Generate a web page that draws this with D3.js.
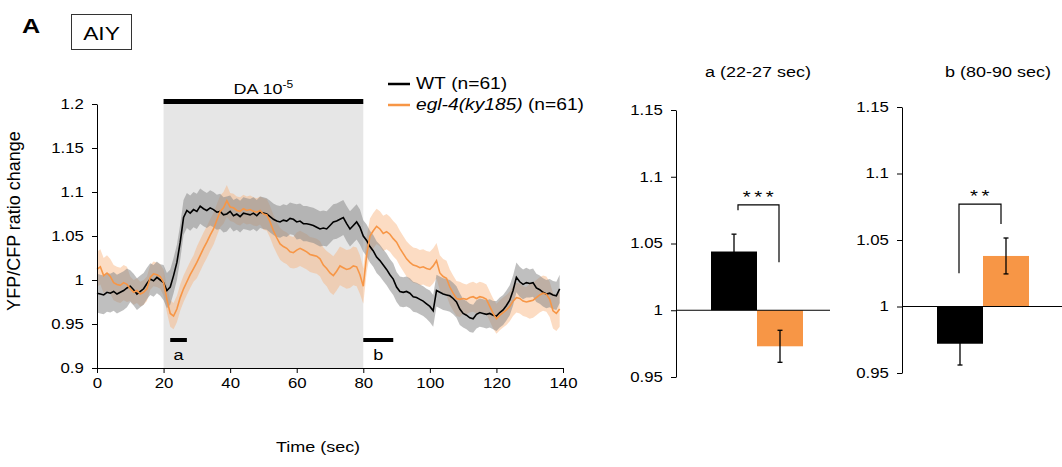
<!DOCTYPE html>
<html>
<head>
<meta charset="utf-8">
<script src="https://cdn.jsdelivr.net/npm/d3@7"></script>
<style>
  body { margin: 0; background: #fff; }
  svg { font-family: "Liberation Sans", Arial, sans-serif; }
  .axis path, .axis line { stroke: #000; }
  .axis text { font-size: 14px; fill: #000; }
</style>
</head>
<body>
<div class="chart"></div>
<script>
// time course, one sample per second (0..139 s)
let wtMean = [
  0.985,0.984,0.983,0.986,0.985,0.987,0.984,0.986,0.988,0.991,
  0.993,0.989,0.984,0.987,0.990,0.996,1.001,0.999,1.003,1.000,
  0.997,0.988,0.992,1.005,1.020,1.043,1.071,1.079,1.076,1.080,
  1.078,1.084,1.081,1.079,1.082,1.080,1.077,1.078,1.074,1.075,
  1.078,1.073,1.075,1.072,1.076,1.075,1.074,1.076,1.073,1.077,
  1.076,1.075,1.072,1.069,1.067,1.066,1.068,1.067,1.070,1.069,
  1.066,1.067,1.064,1.064,1.063,1.062,1.060,1.058,1.059,1.058,
  1.062,1.066,1.067,1.069,1.071,1.064,1.058,1.062,1.066,1.060,
  1.050,1.045,1.038,1.033,1.026,1.022,1.017,1.012,1.006,1.001,
  0.992,0.987,0.986,0.987,0.985,0.981,0.980,0.978,0.976,0.973,
  0.970,0.965,0.988,0.986,0.984,0.983,0.982,0.979,0.975,0.967,
  0.962,0.960,0.957,0.956,0.961,0.963,0.962,0.961,0.962,0.960,
  0.959,0.963,0.966,0.971,0.977,0.988,1.003,0.998,0.995,0.997,
  0.996,0.997,0.991,0.989,0.986,0.984,0.985,0.983,0.982,0.990
];
let eglMean = [
  1.012,1.015,1.005,1.008,1.004,0.997,0.995,0.994,0.997,0.995,
  0.990,0.986,0.988,0.984,0.986,0.990,1.003,1.007,1.006,1.004,
  0.997,0.978,0.962,0.959,0.967,0.980,0.990,0.998,1.006,1.013,
  1.020,1.028,1.036,1.043,1.051,1.058,1.068,1.078,1.082,1.090,
  1.083,1.082,1.079,1.078,1.081,1.079,1.080,1.078,1.077,1.079,
  1.075,1.074,1.066,1.056,1.048,1.041,1.038,1.036,1.032,1.031,
  1.034,1.036,1.034,1.032,1.029,1.028,1.027,1.024,1.017,1.013,
  1.008,1.005,1.010,1.016,1.014,1.012,1.013,1.016,1.015,1.006,
  0.993,1.028,1.050,1.056,1.061,1.058,1.053,1.055,1.052,1.047,
  1.043,1.036,1.030,1.024,1.020,1.017,1.016,1.014,1.015,1.013,
  1.012,1.016,1.022,1.008,1.004,1.002,0.992,0.985,0.979,0.978,
  0.979,0.978,0.980,0.981,0.979,0.981,0.980,0.978,0.970,0.962,
  0.956,0.960,0.963,0.966,0.970,0.976,0.980,0.979,0.976,0.975,
  0.976,0.977,0.980,0.983,0.985,0.984,0.978,0.965,0.962,0.967
];
// SEM, one value per 10 s block
let wtSem  = [0.022,0.018,0.020,0.020,0.018,0.018,0.020,0.020,0.018,0.017,0.018,0.016,0.017,0.016];
let eglSem = [0.020,0.014,0.015,0.018,0.016,0.018,0.020,0.022,0.020,0.020,0.020,0.017,0.017,0.020];

let stimWindow = [20, 80];
let windowA = [22, 27];
let windowB = [80, 89];
let xTicks = [0, 20, 40, 60, 80, 100, 120, 140];
let yTicks = [0.9, 0.95, 1, 1.05, 1.1, 1.15, 1.2];

// bar panels
let groups = ['WT', 'egl-4'];
let barA = [1.044, 0.973];
let errA = [0.013, 0.012];
let barB = [0.972, 1.038];
let errB = [0.016, 0.0135];
let barTicks = [0.95, 1, 1.05, 1.1, 1.15];

let black = '#000';
let orange = '#F79646';
let sx = 1.2; // the figure's lettering is a bit wide

let svg = d3.select('.chart')
  .append('svg')
    .attr('width', 1062)
    .attr('height', 467);

let fmt = d => String(+d.toFixed(2));

function label(x, y, str, size, anchor) {
  return svg.append('text')
    .attr('transform', `translate(${x},${y}) scale(${sx},1)`)
    .attr('text-anchor', anchor || 'start')
    .style('font-size', size + 'px')
    .text(str);
}

function widen(g) {
  g.selectAll('.tick text').attr('transform', `scale(${sx},1)`);
}

// panel letter + neuron box
label(22, 33, 'A', 21).style('font-weight', 'bold');
svg.append('rect').attr('x', 71.5).attr('y', 14.5).attr('width', 60).attr('height', 35)
  .style('fill', 'none').style('stroke', '#333');
label(101.5, 40, 'AIY', 19, 'middle');

// ---- time course ----
let xScale = d3.scaleLinear().domain([0, 140]).range([97, 563]);
let yScale = d3.scaleLinear().domain([0.9, 1.2]).range([368, 104]);

svg.append('rect')
  .attr('x', xScale(stimWindow[0]))
  .attr('y', 102)
  .attr('width', xScale(stimWindow[1]) - xScale(stimWindow[0]))
  .attr('height', yScale(0.9) - 102)
  .style('fill', '#e6e6e6');

svg.append('rect')
  .attr('x', xScale(stimWindow[0]))
  .attr('y', 99)
  .attr('width', xScale(stimWindow[1]) - xScale(stimWindow[0]))
  .attr('height', 5)
  .style('fill', black);

let daLabel = label((xScale(stimWindow[0]) + xScale(stimWindow[1])) / 2, 94, '', 15, 'middle');
daLabel.append('tspan').text('DA 10');
daLabel.append('tspan').attr('dy', -6).style('font-size', '10px').text('-5');

let semAt = (sem, i) => sem[Math.floor(i / 10)];

let band = sem => d3.area()
  .x((d, i) => xScale(i))
  .y0((d, i) => yScale(d - semAt(sem, i)))
  .y1((d, i) => yScale(d + semAt(sem, i)));

let line = d3.line().x((d, i) => xScale(i)).y(d => yScale(d));

svg.append('path').datum(eglMean).attr('d', band(eglSem))
  .style('fill', '#f9b27a').style('opacity', 0.45);
svg.append('path').datum(wtMean).attr('d', band(wtSem))
  .style('fill', '#8a8a8a').style('opacity', 0.55);
svg.append('path').datum(wtMean).attr('d', line)
  .style('fill', 'none').style('stroke', black).style('stroke-width', 1.6);
svg.append('path').datum(eglMean).attr('d', line)
  .style('fill', 'none').style('stroke', orange).style('stroke-width', 1.6);

// analysis windows
[[windowA, 'a'], [windowB, 'b']].forEach(([w, name]) => {
  svg.append('rect')
    .attr('x', xScale(w[0])).attr('y', 338)
    .attr('width', xScale(w[1]) - xScale(w[0])).attr('height', 4)
    .style('fill', black);
  label((xScale(w[0]) + xScale(w[1])) / 2, 360, name, 15, 'middle');
});

svg.append('g').attr('class', 'axis')
  .attr('transform', 'translate(97,0)')
  .call(d3.axisLeft(yScale).tickValues(yTicks).tickFormat(fmt).tickSize(5).tickSizeOuter(0).tickPadding(6))
  .call(widen);
svg.append('g').attr('class', 'axis')
  .attr('transform', 'translate(0,368)')
  .call(d3.axisBottom(xScale).tickValues(xTicks).tickSize(5).tickSizeOuter(0).tickPadding(5))
  .call(widen);

svg.append('text')
  .attr('transform', 'translate(20,221) rotate(-90)')
  .attr('text-anchor', 'middle').style('font-size', '18px')
  .text('YFP/CFP ratio change');
label(318, 452, 'Time (sec)', 15, 'middle');

// legend
let legend = [['WT', black], ['egl-4(ky185)', orange]];
legend.forEach(([name, col], i) => {
  let y = 84 + i * 21;
  svg.append('line').attr('x1', 388).attr('x2', 410).attr('y1', y).attr('y2', y)
    .style('stroke', col).style('stroke-width', 2.5);
  let t = label(416, y + 5, '', 16);
  t.append('tspan').style('font-style', i ? 'italic' : 'normal').text(name);
  t.append('tspan').text(' (n=61)');
});

// ---- bar panels ----
function barPanel(opts) {
  let y = d3.scaleLinear().domain([0.95, 1.15]).range([opts.bottom, opts.top]);
  let x = d3.scaleBand().domain(groups).range(opts.bars).padding(0);

  label(opts.titleX, 77, opts.title, 15, 'middle');

  svg.append('g').attr('class', 'axis')
    .attr('transform', `translate(${opts.axisX},0)`)
    .call(d3.axisLeft(y).tickValues(barTicks).tickFormat(fmt).tickSize(5).tickSizeOuter(0).tickPadding(6))
    .call(widen);

  svg.selectAll(null).data(opts.values).enter().append('rect')
    .attr('x', (d, i) => x(groups[i]))
    .attr('width', x.bandwidth())
    .attr('y', d => Math.min(y(d), y(1)))
    .attr('height', d => Math.abs(y(d) - y(1)))
    .style('fill', (d, i) => i ? orange : black);

  svg.append('line').attr('x1', opts.axisX).attr('x2', opts.lineEnd)
    .attr('y1', y(1)).attr('y2', y(1)).style('stroke', '#000');

  opts.values.forEach((v, i) => {
    let cx = x(groups[i]) + x.bandwidth() / 2;
    let e = opts.errors[i];
    let g = svg.append('g').style('stroke', '#000').style('stroke-width', 1.3);
    g.append('line').attr('x1', cx).attr('x2', cx).attr('y1', y(v - e)).attr('y2', y(v + e));
    g.append('line').attr('x1', cx - 2.5).attr('x2', cx + 2.5).attr('y1', y(v - e)).attr('y2', y(v - e));
    g.append('line').attr('x1', cx - 2.5).attr('x2', cx + 2.5).attr('y1', y(v + e)).attr('y2', y(v + e));
  });

  let b = opts.bracket;
  svg.append('path')
    .attr('d', `M${b.x1},${y(b.left)}V${y(b.top)}H${b.x2}V${y(b.right)}`)
    .style('fill', 'none').style('stroke', '#000').style('stroke-width', 1.2);
  label((b.x1 + b.x2) / 2 + 1.5, y(b.top) - 2, opts.stars, 17, 'middle')
    .style('letter-spacing', '3px');
}

barPanel({
  title: 'a (22-27 sec)', titleX: 758, axisX: 676, top: 110, bottom: 377,
  bars: [711, 803], lineEnd: 830, values: barA, errors: errA,
  bracket: { x1: 738, x2: 779, left: 1.075, top: 1.079, right: 1.036 }, stars: '***'
});
barPanel({
  title: 'b (80-90 sec)', titleX: 998, axisX: 902, top: 107, bottom: 373,
  bars: [937, 1029], lineEnd: 1062, values: barB, errors: errB,
  bracket: { x1: 959, x2: 1001, left: 1.025, top: 1.077, right: 1.062 }, stars: '**'
});
</script>
</body>
</html>
